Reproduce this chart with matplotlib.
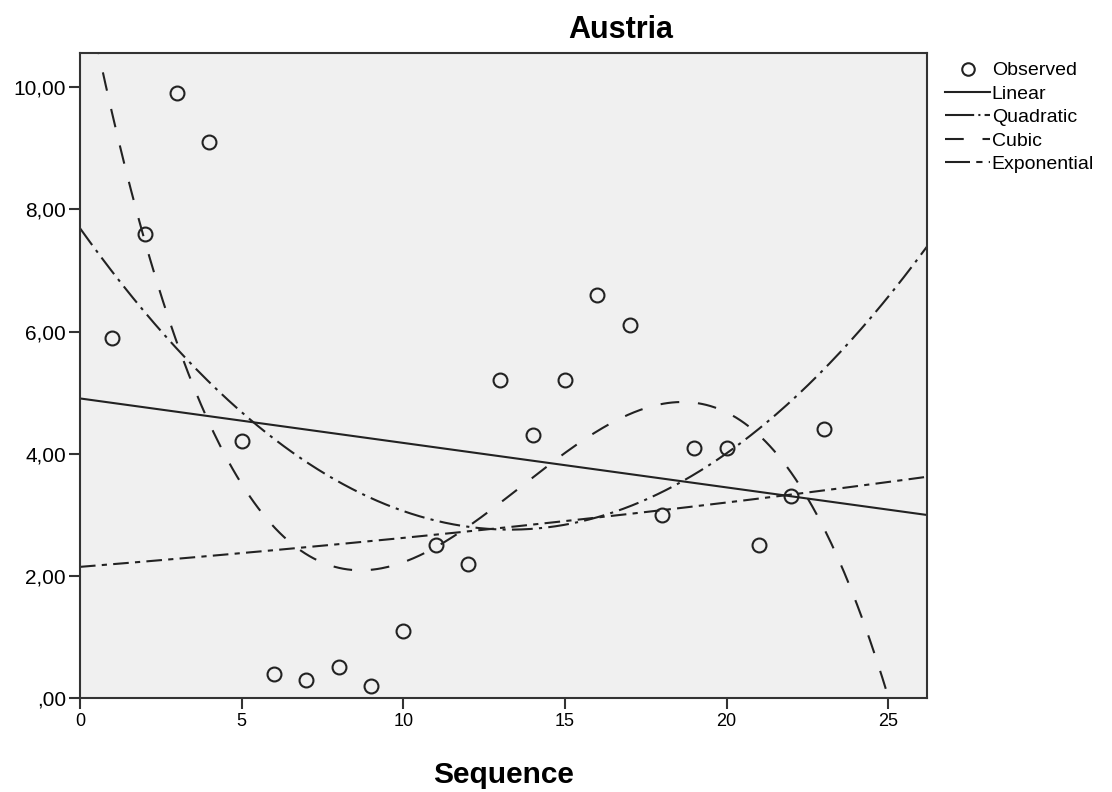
import numpy as np
import matplotlib
matplotlib.use("Agg")
import matplotlib.pyplot as plt
from matplotlib.ticker import FuncFormatter
from matplotlib.lines import Line2D

plt.rcParams['font.family'] = ['Liberation Sans', 'DejaVu Sans']

sequence = np.arange(1, 24)
observed = [5.9, 7.6, 9.9, 9.1, 4.2, 0.4, 0.3, 0.5, 0.2, 1.1, 2.5, 2.2,
            5.2, 4.3, 5.2, 6.6, 6.1, 3.0, 4.1, 4.1, 2.5, 3.3, 4.4]
x_ticks = [0, 5, 10, 15, 20, 25]
y_ticks = [0, 2, 4, 6, 8, 10]

obs = np.array(observed)
xs = np.linspace(0, 26.2, 400)

# curve estimation fits
lin = np.polyval(np.polyfit(sequence, obs, 1), xs)
quad = np.polyval(np.polyfit(sequence, obs, 2), xs)
cub = np.polyval(np.polyfit(sequence, obs, 3), xs)
b1, b0 = np.polyfit(sequence, np.log(obs), 1)
expo = np.exp(b0) * np.exp(b1 * xs)

ink = '#222222'
fig = plt.figure(figsize=(11.12, 7.92), dpi=100)
ax = fig.add_axes([0.0719, 0.1187, 0.7617, 0.8144])
ax.set_facecolor('#f0f0f0')

ax.plot(xs, lin, color=ink, lw=1.5, label='Linear')
ax.plot(xs, quad, color=ink, lw=1.5, dashes=(10, 3, 1.5, 3), label='Quadratic')
ax.plot(xs, cub, color=ink, lw=1.5, dashes=(9, 9), label='Cubic')
ax.plot(xs, expo, color=ink, lw=1.5, dashes=(7.5, 3, 2.5, 3), label='Exponential')
ax.plot(sequence, obs, 'o', ms=10, mfc='none', mec=ink, mew=1.5, label='Observed')

ax.set_xlim(0, 26.2)
ax.set_ylim(0, 10.56)
ax.set_xticks(x_ticks)
ax.set_yticks(y_ticks)

def fmt(v, pos):
    s = f"{v:.2f}".replace('.', ',')
    return s[1:] if s.startswith('0') else s

ax.yaxis.set_major_formatter(FuncFormatter(fmt))
ax.tick_params(axis='y', direction='out', length=8, width=1.5, color='#333333',
               labelsize=15, pad=2)
ax.tick_params(axis='x', direction='out', length=8, width=1.5, color='#333333',
               labelsize=13, pad=3)
for sp in ax.spines.values():
    sp.set_color('#333333')
    sp.set_linewidth(1.5)

ax.set_xlabel('Sequence', fontsize=21.5, fontweight='bold', labelpad=22)
fig.text(0.558, 0.962, 'Austria', fontsize=22, fontweight='bold', ha='center', va='center')

handles = [
    Line2D([], [], ls='none', marker='o', ms=9, mfc='none', mec=ink, mew=1.5),
    Line2D([], [], color=ink, lw=1.5),
    Line2D([], [], color=ink, lw=1.5, dashes=(14, 2, 1, 2)),
    Line2D([], [], color=ink, lw=1.5, dashes=(9, 9)),
    Line2D([], [], color=ink, lw=1.5, dashes=(12, 3, 3, 3)),
]
labels = ['Observed', 'Linear', 'Quadratic', 'Cubic', 'Exponential']
fig.legend(handles, labels, loc='upper left', bbox_to_anchor=(0.850, 0.922),
           frameon=False, fontsize=14, handlelength=2.3, handletextpad=0.1,
           labelspacing=0.3, borderaxespad=0, borderpad=0)

fig.savefig('out.png', dpi=100)
